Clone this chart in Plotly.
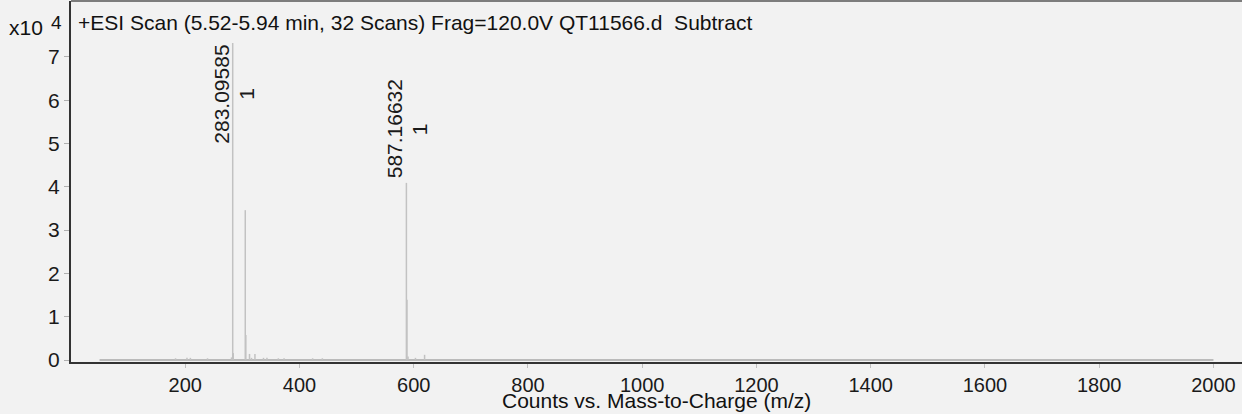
import plotly.graph_objects as go

# ---- data (intensity in units of 10^4 counts) ----
peak_mz = [183.0, 203.0, 209.0, 239.0, 281.0, 283.09585, 284.10, 305.08, 306.08,
           312.5, 316.0, 322.0, 337.0, 343.0, 363.0, 373.0, 423.0, 440.0,
           587.16632, 588.17, 590.0, 603.0, 619.0]
peak_int = [0.04, 0.05, 0.05, 0.04, 0.06, 7.32, 0.16, 3.46, 0.58,
            0.14, 0.05, 0.14, 0.05, 0.05, 0.04, 0.04, 0.04, 0.04,
            4.09, 1.39, 0.08, 0.05, 0.12]
labeled_mz = [283.09585, 587.16632]
labeled_int = [7.32, 4.09]
labeled_text = ["283.09585", "587.16632"]
labeled_charge = ["1", "1"]
scan_range = [50, 2000]
x_ticks = [200, 400, 600, 800, 1000, 1200, 1400, 1600, 1800, 2000]
y_ticks = [0, 1, 2, 3, 4, 5, 6, 7]
title_text = "+ESI Scan (5.52-5.94 min, 32 Scans) Frag=120.0V QT11566.d  Subtract"
x_title = "Counts vs. Mass-to-Charge (m/z)"

FONT = "Liberation Sans, Arial, sans-serif"
FS = 21
TICK_FS = 20
BG = "#f2f2f2"
Y_MAX = 8.29
Y_MIN = -0.046

fig = go.Figure()

# baseline of the acquired range
fig.add_trace(go.Scatter(x=scan_range, y=[0, 0], mode="lines",
                         line=dict(color="#a8a8a8", width=1.5),
                         hoverinfo="skip", showlegend=False))

# stick spectrum
xs, ys = [], []
for m, v in zip(peak_mz, peak_int):
    xs += [m, m, None]
    ys += [0, v, None]
fig.add_trace(go.Scatter(x=xs, y=ys, mode="lines",
                         line=dict(color="#c2c2c2", width=1.5),
                         hoverinfo="skip", showlegend=False))

annotations = []
px_per_unit = (414 - 52 - 1) / (Y_MAX - Y_MIN)
half_len = 48
gap = 6
for m, v, t, z in zip(labeled_mz, labeled_int, labeled_text, labeled_charge):
    center_px_above = gap + half_len
    fits = v + (center_px_above + half_len + 45) / px_per_unit < Y_MAX
    if fits:
        pos = dict(y=v, yref="y", yshift=center_px_above)
    else:
        pos = dict(y=1, yref="paper", yshift=-93)
    annotations.append(dict(x=m, xref="x", text=t, textangle=-90, showarrow=False,
                            xanchor="center", yanchor="middle", xshift=-12,
                            font=dict(family=FONT, size=FS, color="#1a1a1a"), **pos))
    annotations.append(dict(x=m, xref="x", text=z, textangle=-90, showarrow=False,
                            xanchor="center", yanchor="middle", xshift=13,
                            font=dict(family=FONT, size=FS, color="#1a1a1a"), **pos))

annotations += [
    dict(x=0, xref="paper", y=1, yref="paper", text=title_text, showarrow=False,
         xanchor="left", yanchor="middle", xshift=5, yshift=-21,
         font=dict(family=FONT, size=FS, color="#111111")),
    dict(x=0, xref="paper", y=1, yref="paper", text="x10", showarrow=False,
         xanchor="center", yanchor="middle", xshift=-45, yshift=-26,
         font=dict(family=FONT, size=FS, color="#111111")),
    dict(x=0, xref="paper", y=1, yref="paper", text="4", showarrow=False,
         xanchor="center", yanchor="middle", xshift=-15, yshift=-21,
         font=dict(family=FONT, size=19, color="#111111")),
    dict(x=0.5, xref="paper", y=0, yref="paper", text=x_title, showarrow=False,
         xanchor="center", yanchor="bottom", yshift=-52,
         font=dict(family=FONT, size=FS, color="#111111")),
]

fig.update_layout(
    width=1242, height=414,
    margin=dict(l=71, r=0, t=1, b=52),
    paper_bgcolor=BG, plot_bgcolor=BG,
    annotations=annotations,
    shapes=[dict(type="line", xref="paper", yref="paper", x0=0, x1=1, y0=1, y1=1,
                 line=dict(color="#7d7d7d", width=2))],
    font=dict(family=FONT, size=FS, color="#1a1a1a"),
)
fig.update_xaxes(range=[0, 2050], tickvals=x_ticks, ticktext=[str(v) for v in x_ticks],
                 showgrid=False, zeroline=False, showline=True, linecolor="#333333",
                 linewidth=2, ticks="outside", ticklen=4, tickcolor="#c0c0c0", tickwidth=1,
                 tickfont=dict(family=FONT, size=TICK_FS, color="#1a1a1a"))
fig.update_yaxes(range=[Y_MIN, Y_MAX], tickvals=y_ticks, ticktext=[str(v) for v in y_ticks],
                 showgrid=False, zeroline=False, showline=True, linecolor="#333333",
                 linewidth=2, ticks="outside", ticklen=5, tickcolor="#b0b0b0", tickwidth=1,
                 tickfont=dict(family=FONT, size=FS, color="#1a1a1a"))

fig.write_html("out.html", config={"displayModeBar": False},
               post_script="document.body.style.margin='0';document.body.style.overflow='hidden';")
